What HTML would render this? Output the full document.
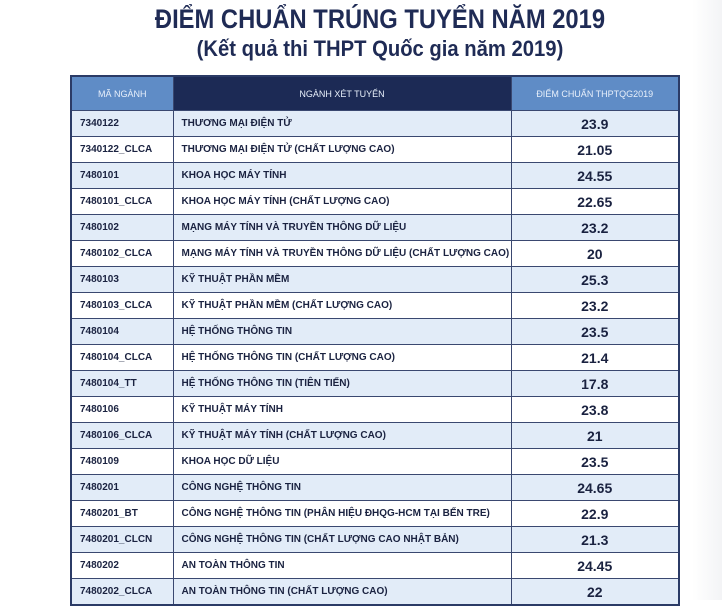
<!DOCTYPE html>
<html><head><meta charset="utf-8"><style>
body{margin:0;width:722px;height:600px;overflow:hidden;background:#fff;font-family:"Liberation Sans","DejaVu Sans",sans-serif;position:relative}
h1{position:absolute;top:4px;left:380px;margin:0;font-size:27px;color:#1f2b55;font-weight:bold;white-space:nowrap;transform:translateX(-50%) scaleX(0.88)}
h2{position:absolute;top:36px;left:380px;margin:0;font-size:22px;color:#1f2b55;font-weight:bold;white-space:nowrap;transform:translateX(-50%) scaleX(0.92)}
table{position:absolute;left:70px;top:75px;border-collapse:collapse;width:608px;table-layout:fixed;border:2px solid #2b3b66}
td,th{border:1px solid #3a4870;height:25px;padding:0 0 0 8px;font-size:10px;color:#1a2240;font-weight:bold;white-space:nowrap;overflow:hidden}
th{height:33px;color:#e8f0fb;font-weight:normal;font-size:9px;text-align:center;padding:0;background:#5f8cc6}
th.m{background:#1c2a55}
td.s{text-align:center;font-size:14px;padding:0}
tr:nth-child(even) td{background:#e2ecf8}
.bg{position:absolute;right:0;top:0;width:30px;height:600px;background:linear-gradient(90deg,#fff,#f3f4f6)}
</style></head><body>
<div class="bg"></div>
<h1>ĐIỂM CHUẨN TRÚNG TUYỂN NĂM 2019</h1>
<h2>(Kết quả thi THPT Quốc gia năm 2019)</h2>
<table>
<colgroup><col style="width:102px"><col style="width:338px"><col style="width:168px"></colgroup>
<tr><th>MÃ NGÀNH</th><th class="m">NGÀNH XÉT TUYỂN</th><th>ĐIỂM CHUẨN THPTQG2019</th></tr>
<tr><td>7340122</td><td>THƯƠNG MẠI ĐIỆN TỬ</td><td class="s">23.9</td></tr>
<tr><td>7340122_CLCA</td><td>THƯƠNG MẠI ĐIỆN TỬ (CHẤT LƯỢNG CAO)</td><td class="s">21.05</td></tr>
<tr><td>7480101</td><td>KHOA HỌC MÁY TÍNH</td><td class="s">24.55</td></tr>
<tr><td>7480101_CLCA</td><td>KHOA HỌC MÁY TÍNH (CHẤT LƯỢNG CAO)</td><td class="s">22.65</td></tr>
<tr><td>7480102</td><td>MẠNG MÁY TÍNH VÀ TRUYỀN THÔNG DỮ LIỆU</td><td class="s">23.2</td></tr>
<tr><td>7480102_CLCA</td><td>MẠNG MÁY TÍNH VÀ TRUYỀN THÔNG DỮ LIỆU (CHẤT LƯỢNG CAO)</td><td class="s">20</td></tr>
<tr><td>7480103</td><td>KỸ THUẬT PHẦN MỀM</td><td class="s">25.3</td></tr>
<tr><td>7480103_CLCA</td><td>KỸ THUẬT PHẦN MỀM (CHẤT LƯỢNG CAO)</td><td class="s">23.2</td></tr>
<tr><td>7480104</td><td>HỆ THỐNG THÔNG TIN</td><td class="s">23.5</td></tr>
<tr><td>7480104_CLCA</td><td>HỆ THỐNG THÔNG TIN (CHẤT LƯỢNG CAO)</td><td class="s">21.4</td></tr>
<tr><td>7480104_TT</td><td>HỆ THỐNG THÔNG TIN (TIÊN TIẾN)</td><td class="s">17.8</td></tr>
<tr><td>7480106</td><td>KỸ THUẬT MÁY TÍNH</td><td class="s">23.8</td></tr>
<tr><td>7480106_CLCA</td><td>KỸ THUẬT MÁY TÍNH (CHẤT LƯỢNG CAO)</td><td class="s">21</td></tr>
<tr><td>7480109</td><td>KHOA HỌC DỮ LIỆU</td><td class="s">23.5</td></tr>
<tr><td>7480201</td><td>CÔNG NGHỆ THÔNG TIN</td><td class="s">24.65</td></tr>
<tr><td>7480201_BT</td><td>CÔNG NGHỆ THÔNG TIN (PHÂN HIỆU ĐHQG-HCM TẠI BẾN TRE)</td><td class="s">22.9</td></tr>
<tr><td>7480201_CLCN</td><td>CÔNG NGHỆ THÔNG TIN (CHẤT LƯỢNG CAO NHẬT BẢN)</td><td class="s">21.3</td></tr>
<tr><td>7480202</td><td>AN TOÀN THÔNG TIN</td><td class="s">24.45</td></tr>
<tr><td>7480202_CLCA</td><td>AN TOÀN THÔNG TIN (CHẤT LƯỢNG CAO)</td><td class="s">22</td></tr>
</table>
</body></html>
